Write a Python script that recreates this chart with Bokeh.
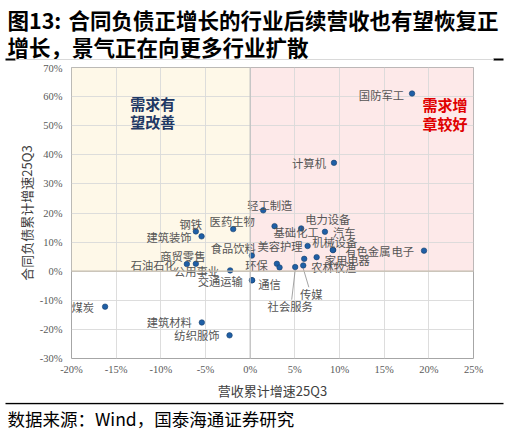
from bokeh.plotting import figure
from bokeh.layouts import column
from bokeh.models import Range1d, Span, SingleIntervalTicker, PrintfTickFormatter, ColumnDataSource
from bokeh.core.properties import value
from bokeh.embed import file_html
from bokeh.resources import INLINE

# ---------------- data ----------------
industries = ["国防军工", "计算机", "轻工制造", "医药生物", "钢铁", "建筑装饰", "基础化工",
              "电力设备", "汽车", "美容护理", "有色金属", "机械设备", "电子", "食品饮料",
              "商贸零售", "石油石化", "公用事业", "环保", "", "社会服务", "传媒", "农林牧渔",
              "家用电器", "交通运输", "通信", "煤炭", "建筑材料", "纺织服饰"]
revenue_growth = [18.12, 9.38, 1.46, -1.90, -6.08, -5.44, 2.73,
                  5.71, 8.37, 6.43, 9.30, 9.25, 19.46, 0.19,
                  -6.08, -7.09, -2.24, 2.99, 3.29, 5.04, 5.94, 6.05,
                  7.44, 0.19, 0.22, -16.24, -5.41, -2.31]
contract_liab_growth = [61.05, 37.24, 20.92, 14.46, 13.67, 11.97, 15.48,
                        14.69, 13.54, 8.67, 7.31, 7.25, 7.07, 5.37,
                        2.55, 2.45, 0.27, 2.55, 1.29, 1.43, 1.97, 4.25,
                        4.83, -3.13, -3.10, -12.18, -17.62, -22.04]
x_title = "营收累计增速25Q3"
y_title = "合同负债累计增速25Q3"
title_lines = ["图13:", "合同负债正增长的行业后续营收也有望恢复正", "增长，景气正在向更多行业扩散"]
source_text = "数据来源：Wind，国泰海通证券研究"
quad_left_text = ["需求有", "望改善"]
quad_right_text = ["需求增", "章较好"]

# ---------------- label placement (pixels: dx, dy(down), align) ----------------
label_pos = {
    "国防军工": (-8, 1, "right"), "计算机": (-8, 0, "right"), "轻工制造": (-16, -5, "left"),
    "医药生物": (-1, -8, "center"), "钢铁": (-5, -7, "center"), "建筑装饰": (-10, 1, "right"),
    "基础化工": (-1, 6, "left"), "电力设备": (4, -9, "left"), "汽车": (8, 0, "left"),
    "美容护理": (-5, 0, "right"), "有色金属": (12, 1, "left"), "机械设备": (2, -8, "center"),
    "电子": (-10, 0, "right"), "食品饮料": (4, -8, "right"), "商贸零售": (-13, -8, "center"),
    "石油石化": (-11, 1, "right"), "公用事业": (-11, 1, "right"), "环保": (-9, 1, "right"),
    "社会服务": (-5, 39, "center"), "传媒": (8, 29, "center"), "农林牧渔": (7, 8, "left"),
    "家用电器": (8, 3, "left"), "交通运输": (-9, 1, "right"), "通信": (6, 4, "left"),
    "煤炭": (-11, 0, "right"), "建筑材料": (-10, 0, "right"), "纺织服饰": (-10, 0, "right"),
}
leaders = {"社会服务": 33, "传媒": 22}

W = 505
XR = (-20, 25)
YR = (-30, 70)
HH, MH, FH = 62, 340, 29
ML, MR, MT, MB = 71, 32, 5, 41
frame_w = W - ML - MR
frame_h = MH - MT - MB
px_x = frame_w / (XR[1] - XR[0])
px_y = frame_h / (YR[1] - YR[0])

CJK = "Noto Sans CJK SC"

# ---------------- header ----------------
hdr = figure(width=W, height=HH, x_range=Range1d(0, W), y_range=Range1d(0, HH), title=None,
             output_backend="svg", toolbar_location=None, x_axis_type=None, y_axis_type=None,
             min_border=0, outline_line_color=None)
hdr.frame_align = False
hdr.grid.visible = False
hdr.text(x=[7, 68, 7], y=[43, 43, 16], text=title_lines, text_font=value(CJK),
         text_font_size="21.5px", text_font_style="bold", text_color="#000000",
         text_baseline="middle", text_align="left")
hdr.segment(x0=[5, 493], y0=[3, 3], x1=[15, 503], y1=[3, 3], line_color="#000000", line_width=2)
hdr.segment(x0=[15], y0=[3], x1=[493], y1=[3], line_color="#D9D9D9", line_width=1)

# ---------------- main chart ----------------
p = figure(width=W, height=MH, x_range=Range1d(*XR), y_range=Range1d(*YR), title=None,
           output_backend="svg", toolbar_location=None,
           min_border_left=ML, min_border_right=MR, min_border_top=MT, min_border_bottom=MB,
           outline_line_color="#A6A6A6", outline_line_width=1)
p.frame_align = False
p.background_fill_color = "#FFFFFF"
p.border_fill_color = "#FFFFFF"

p.quad(left=[XR[0], 0], right=[0, XR[1]], bottom=[0, 0], top=[YR[1], YR[1]],
       fill_color=["#FEF8E8", "#FDE9E9"], line_color=None, level="image")

p.xaxis.ticker = SingleIntervalTicker(interval=5)
p.yaxis.ticker = SingleIntervalTicker(interval=10)
p.xaxis.formatter = PrintfTickFormatter(format="%d%%")
p.yaxis.formatter = PrintfTickFormatter(format="%d%%")
for ax in (p.xaxis[0], p.yaxis[0]):
    ax.axis_line_color = None
    ax.major_tick_line_color = None
    ax.minor_tick_line_color = None
    ax.major_tick_out = 0
    ax.major_tick_in = 0
    ax.minor_tick_out = 0
    ax.minor_tick_in = 0
    ax.major_label_text_font = "Liberation Serif"
    ax.major_label_text_font_size = "10.5px"
    ax.major_label_text_color = "#595959"
    ax.axis_label_text_font = CJK
    ax.axis_label_text_font_size = "13px"
    ax.axis_label_text_font_style = "normal"
    ax.axis_label_text_color = "#404040"
p.xaxis.axis_label = x_title
p.yaxis.axis_label = y_title
p.xaxis.major_label_standoff = 5
p.xaxis.axis_label_standoff = 3
p.yaxis.major_label_standoff = 9
p.yaxis.axis_label_standoff = 1
p.grid.grid_line_color = "#D9D9D9"
p.grid.grid_line_alpha = 0.9

p.add_layout(Span(location=0, dimension="height", line_color="#BFBFBF", line_width=1.2))
p.add_layout(Span(location=0, dimension="width", line_color="#C4BCAE", line_width=1.2))

# leader lines
lx0, ly0, lx1, ly1 = [], [], [], []
for n, xv, yv in zip(industries, revenue_growth, contract_liab_growth):
    if n in leaders:
        dx, dy, _ = label_pos[n]
        top_px = leaders[n]
        lx0.append(xv)
        ly0.append(yv - 1.0)
        lx1.append(xv + (dx * 0.7) / px_x)
        ly1.append(yv - top_px / px_y)
p.segment(x0=lx0, y0=ly0, x1=lx1, y1=ly1, line_color="#8C8C8C", line_width=0.8)

src = ColumnDataSource(dict(x=revenue_growth, y=contract_liab_growth, name=industries))
p.scatter("x", "y", source=src, size=5.5, fill_color="#1F5FA6", line_color="#183F6B", line_width=0.6)

lab = dict(x=[], y=[], text=[], dx=[], dy=[], align=[])
for n, xv, yv in zip(industries, revenue_growth, contract_liab_growth):
    if not n:
        continue
    dx, dy, al = label_pos[n]
    lab["x"].append(xv); lab["y"].append(yv); lab["text"].append(n)
    lab["dx"].append(dx); lab["dy"].append(dy); lab["align"].append(al)
p.text(x="x", y="y", text="text", x_offset="dx", y_offset="dy", text_align="align",
       source=ColumnDataSource(lab), text_font=value(CJK), text_font_size="11.3px",
       text_color="#555555", text_baseline="middle")

p.text(x=[-10.9, -10.9], y=[57.8, 51.3], text=quad_left_text, text_font=value(CJK),
       text_font_size="15px", text_font_style="bold", text_color="#1F3864",
       text_align="center", text_baseline="middle")
p.text(x=[21.8, 21.8], y=[57.2, 50.7], text=quad_right_text, text_font=value(CJK),
       text_font_size="15px", text_font_style="bold", text_color="#E00000",
       text_align="center", text_baseline="middle")

# ---------------- footer ----------------
ftr = figure(width=W, height=FH, x_range=Range1d(0, W), y_range=Range1d(0, FH), title=None,
             output_backend="svg", toolbar_location=None, x_axis_type=None, y_axis_type=None,
             min_border=0, outline_line_color=None)
ftr.frame_align = False
ftr.grid.visible = False
ftr.segment(x0=[5], y0=[28], x1=[503], y1=[28], line_color="#000000", line_width=1.6)
ftr.text(x=[7], y=[13], text=[source_text], text_font=value(CJK), text_font_size="17.5px",
         text_color="#000000", text_baseline="middle", text_align="left")

layout = column(hdr, p, ftr, spacing=0)
open("out.html", "w").write(file_html(layout, INLINE))
